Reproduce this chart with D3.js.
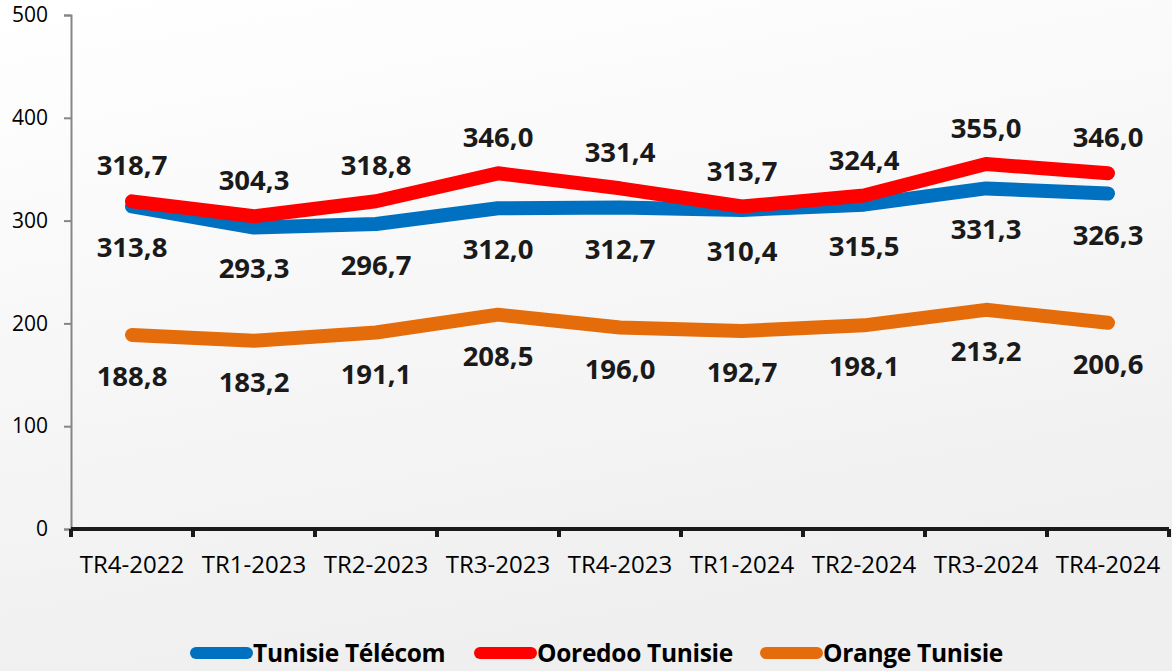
<!DOCTYPE html>
<html>
<head>
<meta charset="utf-8">
<script src="https://cdn.jsdelivr.net/npm/d3@7"></script>
<style>
  html, body { margin: 0; padding: 0; }
  svg { display: block; }
</style>
</head>
<body>
<svg id="chart" width="1172" height="671"></svg>
<script>
const categories = ['TR4-2022', 'TR1-2023', 'TR2-2023', 'TR3-2023', 'TR4-2023', 'TR1-2024', 'TR2-2024', 'TR3-2024', 'TR4-2024'];
const tunisieTelecom = [313.8, 293.3, 296.7, 312.0, 312.7, 310.4, 315.5, 331.3, 326.3];
const ooredoo = [318.7, 304.3, 318.8, 346.0, 331.4, 313.7, 324.4, 355.0, 346.0];
const orange = [188.8, 183.2, 191.1, 208.5, 196.0, 192.7, 198.1, 213.2, 200.6];
const yTicks = [0, 100, 200, 300, 400, 500];

const series = [
  { name: 'Tunisie Télécom', values: tunisieTelecom, color: '#0070c0', labelPos: 'below' },
  { name: 'Ooredoo Tunisie', values: ooredoo, color: '#ff0000', labelPos: 'above' },
  { name: 'Orange Tunisie', values: orange, color: '#e46c0a', labelPos: 'below' }
];

const svg = d3.select('#chart');
const W = 1172, H = 671;
const plot = { left: 71, right: 1169, top: 15, bottom: 529 };

// background gradient
const defs = svg.append('defs');
const grad = defs.append('linearGradient').attr('id', 'bg')
  .attr('x1', 0).attr('y1', 0).attr('x2', 0.3).attr('y2', 1);
grad.append('stop').attr('offset', '0%').attr('stop-color', '#ffffff');
grad.append('stop').attr('offset', '100%').attr('stop-color', '#efefef');
svg.append('rect').attr('width', W).attr('height', H).attr('fill', 'url(#bg)');

const x = d3.scaleBand().domain(categories).range([plot.left, plot.right]);
const y = d3.scaleLinear().domain([0, 500]).range([plot.bottom, plot.top]);

// y axis
const yAxis = svg.append('g')
  .attr('transform', `translate(${plot.left},0)`)
  .call(d3.axisLeft(y).tickValues(yTicks).tickSize(7).tickPadding(16));
yAxis.select('.domain').attr('stroke', '#868686').attr('stroke-width', 2);
yAxis.selectAll('.tick line').attr('stroke', '#868686').attr('stroke-width', 2);
yAxis.selectAll('.tick text')
  .attr('font-family', 'Open Sans, sans-serif')
  .attr('font-size', 21)
  .attr('fill', '#000');

// x axis
const xAxis = svg.append('g')
  .attr('transform', `translate(0,${plot.bottom})`);
xAxis.append('line')
  .attr('x1', plot.left).attr('x2', plot.right)
  .attr('stroke', '#1a1a1a').attr('stroke-width', 4);
xAxis.selectAll('line.tk')
  .data(categories.concat(['end']))
  .enter().append('line')
  .attr('class', 'tk')
  .attr('x1', (d, i) => plot.left + i * x.bandwidth())
  .attr('x2', (d, i) => plot.left + i * x.bandwidth())
  .attr('y1', 0).attr('y2', 8)
  .attr('stroke', '#1a1a1a').attr('stroke-width', 4);
xAxis.selectAll('text')
  .data(categories)
  .enter().append('text')
  .attr('x', d => x(d) + x.bandwidth() / 2)
  .attr('y', 44)
  .attr('text-anchor', 'middle')
  .attr('font-family', 'Open Sans, sans-serif')
  .attr('font-size', 24)
  .attr('fill', '#000')
  .text(d => d);

// lines
const line = d3.line()
  .x((d, i) => x(categories[i]) + x.bandwidth() / 2)
  .y(d => y(d));

for (const s of series) {
  svg.append('path')
    .datum(s.values)
    .attr('d', line)
    .attr('fill', 'none')
    .attr('stroke', s.color)
    .attr('stroke-width', 14)
    .attr('stroke-linecap', 'round')
    .attr('stroke-linejoin', 'round');
}

// data labels
const fmt = v => v.toFixed(1).replace('.', ',');
for (const s of series) {
  svg.append('g')
    .selectAll('text')
    .data(s.values)
    .enter().append('text')
    .attr('x', (d, i) => x(categories[i]) + x.bandwidth() / 2)
    .attr('y', d => s.labelPos === 'above' ? y(d) - 26 : y(d) + 51)
    .attr('text-anchor', 'middle')
    .attr('font-family', 'Open Sans, sans-serif')
    .attr('font-weight', 'bold')
    .attr('font-size', 27.5)
    .attr('fill', '#1a1a1a')
    .text(fmt);
}

// legend
const legendX = [190, 474, 760];
const legend = svg.append('g').attr('transform', 'translate(0,653)');
series.forEach((s, i) => {
  const g = legend.append('g').attr('transform', `translate(${legendX[i]},0)`);
  g.append('line')
    .attr('x1', 6).attr('x2', 57)
    .attr('stroke', s.color)
    .attr('stroke-width', 12)
    .attr('stroke-linecap', 'round');
  g.append('text')
    .attr('x', 63)
    .attr('y', 9)
    .attr('font-family', 'Open Sans, sans-serif')
    .attr('font-weight', 'bold')
    .attr('font-size', 24.5)
    .attr('letter-spacing', -0.3)
    .attr('fill', '#000')
    .text(s.name);
});
</script>
</body>
</html>
